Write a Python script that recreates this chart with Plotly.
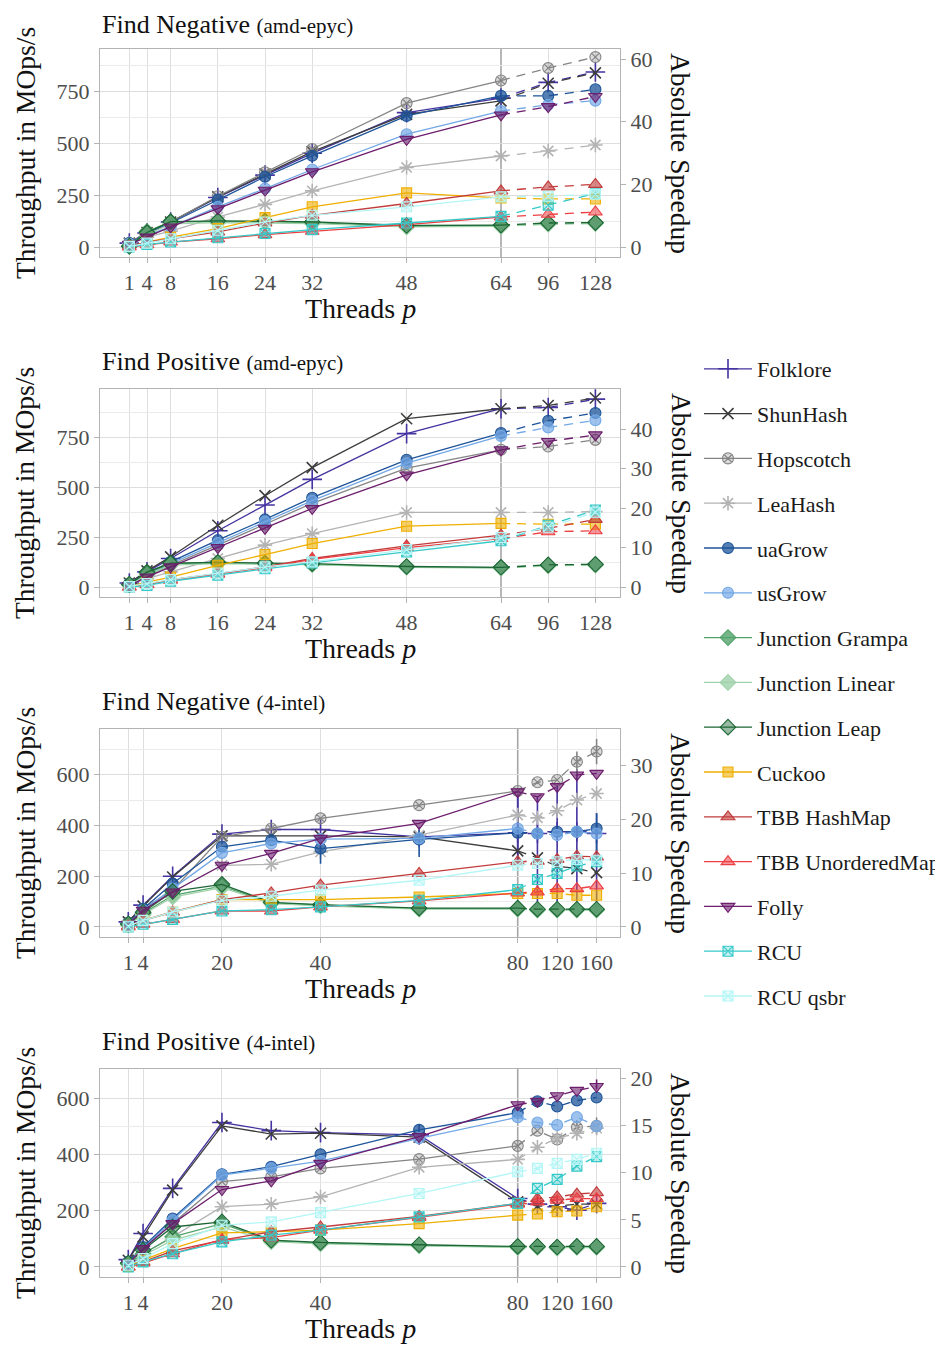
import plotly.graph_objects as go

# ---------------- data ----------------
threads_amd = [1, 4, 8, 16, 24, 32, 48, 64, 96, 128]
threads_intel = [1, 4, 10, 20, 30, 40, 60, 80, 100, 120, 140, 160]
ticks_amd = [1, 4, 8, 16, 24, 32, 48, 64, 96, 128]
ticks_intel = [1, 4, 20, 40, 80, 120, 160]

series_names = ["Folklore", "ShunHash", "Hopscotch", "LeaHash", "uaGrow", "usGrow",
                "Junction Grampa", "Junction Linear", "Junction Leap", "Cuckoo",
                "TBB HashMap", "TBB UnorderedMap", "Folly", "RCU", "RCU qsbr"]

# Find Negative (amd-epyc), throughput in MOps/s
neg_amd_folklore = [19, 68, 121, 239, 347, 452, 648, 718, 794, 844]
neg_amd_shunhash = [19, 70, 121, 242, 352, 460, 640, 705, 790, 840]
neg_amd_hopscotch = [19, 73, 121, 245, 360, 473, 694, 803, 863, 916]
neg_amd_leahash = [16, 48, 77, 145, 206, 271, 384, 439, 463, 492]
neg_amd_uagrow = [19, 65, 116, 229, 339, 440, 632, 729, 729, 761]
neg_amd_usgrow = [16, 56, 97, 194, 282, 374, 544, 656, 686, 706]
neg_amd_grampa = [4, 75, 121, 123, 121, 118, 100, 103, 113, 116]
neg_amd_linear = [3, 60, 112, 118, 116, 113, 97, 100, 110, 113]
neg_amd_leap = [4, 70, 123, 126, 125, 121, 104, 106, 116, 118]
neg_amd_cuckoo = [3, 24, 48, 89, 142, 194, 261, 237, 232, 232]
neg_amd_tbbhash = [3, 24, 40, 73, 116, 153, 210, 271, 290, 302]
neg_amd_tbbunord = [0, 11, 24, 40, 60, 76, 108, 145, 158, 169]
neg_amd_folly = [13, 48, 97, 185, 274, 363, 519, 637, 677, 726]
neg_amd_rcu = [0, 13, 24, 45, 65, 84, 116, 148, 202, 258]
neg_amd_rcuqsbr = [3, 19, 40, 81, 121, 153, 194, 242, 245, 255]

# Find Positive (amd-epyc)
pos_amd_folklore = [20, 76, 143, 282, 411, 540, 769, 894, 900, 942]
pos_amd_shunhash = [20, 81, 151, 310, 458, 599, 844, 894, 910, 948]
pos_amd_hopscotch = [13, 54, 109, 210, 315, 420, 596, 688, 705, 738]
pos_amd_leahash = [13, 42, 76, 143, 210, 268, 374, 374, 374, 378]
pos_amd_uagrow = [17, 67, 126, 235, 339, 448, 638, 772, 834, 873]
pos_amd_usgrow = [13, 59, 117, 221, 327, 433, 621, 758, 800, 836]
pos_amd_grampa = [13, 70, 117, 121, 117, 114, 101, 97, 109, 112]
pos_amd_linear = [10, 60, 110, 117, 115, 112, 99, 95, 106, 110]
pos_amd_leap = [14, 75, 120, 124, 120, 117, 103, 99, 111, 114]
pos_amd_cuckoo = [3, 25, 50, 109, 163, 218, 305, 319, 315, 315]
pos_amd_tbbhash = [0, 13, 37, 67, 101, 143, 206, 260, 294, 339]
pos_amd_tbbunord = [0, 12, 34, 64, 97, 139, 198, 243, 277, 282]
pos_amd_folly = [8, 50, 101, 198, 294, 394, 562, 688, 730, 763]
pos_amd_rcu = [0, 8, 29, 59, 92, 121, 176, 232, 310, 386]
pos_amd_rcuqsbr = [3, 17, 37, 70, 101, 126, 188, 248, 300, 375]

# Find Negative (4-intel)
neg_intel_folklore = [20, 86, 200, 366, 384, 384, 355, 371, 368, 375, 375, 368]
neg_intel_shunhash = [20, 82, 197, 359, 359, 359, 355, 300, 272, 240, 230, 214]
neg_intel_hopscotch = [16, 72, 145, 355, 388, 428, 480, 536, 570, 579, 651, 691]
neg_intel_leahash = [13, 66, 138, 243, 247, 296, 362, 441, 430, 458, 500, 526]
neg_intel_uagrow = [16, 72, 171, 316, 342, 309, 345, 371, 368, 375, 375, 388]
neg_intel_usgrow = [13, 66, 151, 292, 329, 346, 349, 388, 368, 362, 375, 368]
neg_intel_grampa = [11, 53, 125, 161, 95, 86, 72, 72, 68, 68, 68, 68]
neg_intel_linear = [9, 48, 118, 155, 92, 83, 70, 70, 66, 66, 66, 66]
neg_intel_leap = [12, 58, 140, 168, 97, 88, 74, 74, 70, 70, 70, 70]
neg_intel_cuckoo = [3, 26, 59, 108, 108, 108, 118, 132, 132, 132, 125, 125]
neg_intel_tbbhash = [3, 26, 59, 108, 134, 165, 211, 257, 259, 266, 279, 276]
neg_intel_tbbunord = [0, 11, 30, 63, 63, 79, 103, 134, 138, 151, 151, 162]
neg_intel_folly = [11, 66, 138, 243, 290, 349, 408, 533, 513, 553, 599, 605]
neg_intel_rcu = [0, 11, 30, 63, 68, 79, 105, 147, 187, 211, 240, 257]
neg_intel_rcuqsbr = [3, 26, 59, 105, 121, 145, 184, 243, 250, 257, 266, 263]
# error bars (up / down) for Find Negative (4-intel)
neg_intel_folklore_err_up = [0, 0, 0, 0, 0, 0, 0, 150, 145, 185, 245, 80]
neg_intel_folklore_err_dn = [0, 0, 0, 0, 0, 0, 0, 120, 290, 295, 295, 290]
neg_intel_uagrow_err_up = [0, 0, 0, 0, 0, 40, 37, 0, 0, 0, 0, 60]
neg_intel_uagrow_err_dn = [0, 0, 0, 0, 0, 60, 69, 0, 0, 0, 0, 100]
neg_intel_hopscotch_err_up = [0, 0, 0, 0, 0, 0, 0, 0, 0, 0, 40, 50]
neg_intel_hopscotch_err_dn = [0, 0, 0, 0, 0, 0, 0, 0, 0, 0, 60, 50]

# Find Positive (4-intel)
pos_intel_folklore = [26, 119, 279, 513, 484, 477, 469, 243, 223, 214, 202, 226]
pos_intel_shunhash = [24, 107, 273, 501, 472, 475, 461, 231, 216, 216, 223, 223]
pos_intel_hopscotch = [18, 65, 154, 303, 320, 350, 383, 430, 484, 453, 496, 501]
pos_intel_leahash = [12, 47, 107, 214, 223, 249, 354, 382, 425, 457, 475, 493]
pos_intel_uagrow = [18, 71, 172, 329, 356, 400, 487, 548, 588, 570, 591, 602]
pos_intel_usgrow = [14, 65, 166, 326, 350, 376, 457, 532, 513, 504, 532, 500]
pos_intel_grampa = [12, 47, 107, 154, 93, 85, 77, 71, 71, 69, 71, 71]
pos_intel_linear = [10, 40, 95, 142, 90, 82, 75, 69, 69, 67, 69, 69]
pos_intel_leap = [14, 60, 142, 160, 95, 87, 79, 73, 73, 71, 73, 73]
pos_intel_cuckoo = [2, 24, 65, 121, 125, 131, 154, 184, 188, 196, 199, 214]
pos_intel_tbbhash = [0, 18, 57, 95, 125, 142, 180, 226, 243, 249, 259, 264]
pos_intel_tbbunord = [0, 14, 47, 97, 104, 131, 176, 223, 231, 237, 243, 243]
pos_intel_folly = [12, 65, 154, 275, 306, 368, 463, 576, 588, 608, 627, 641]
pos_intel_rcu = [0, 18, 47, 89, 113, 131, 178, 226, 279, 311, 358, 392]
pos_intel_rcuqsbr = [6, 30, 83, 148, 160, 193, 261, 338, 350, 368, 382, 404]
pos_intel_folly_err_up = [0, 0, 0, 0, 0, 0, 0, 0, 0, 0, 0, 25]
pos_intel_folly_err_dn = [0, 0, 0, 0, 0, 0, 0, 0, 0, 0, 0, 10]
pos_intel_hopscotch_err_up = [0, 0, 0, 0, 0, 0, 0, 0, 0, 0, 25, 30]
pos_intel_hopscotch_err_dn = [0, 0, 0, 0, 0, 0, 0, 0, 0, 0, 30, 30]

# sequential baseline (MOps/s) used for absolute speedup
seq_neg_amd = 15.1
seq_pos_amd = 19.8
seq_neg_intel = 21.2
seq_pos_intel = 33.5

# ---------------- styles ----------------
styles = {
    "Folklore": ("#4433a0", "cross-thin", 14, 0.0),
    "ShunHash": ("#3d3d3d", "x-thin", 11, 0.0),
    "Hopscotch": ("#858585", "circle-x", 11, 0.3),
    "LeaHash": ("#b3b3b3", "asterisk", 12, 0.0),
    "uaGrow": ("#1d549a", "circle", 11, 0.75),
    "usGrow": ("#73a8e6", "circle", 11, 0.7),
    "Junction Grampa": ("#52a36a", "diamond", 12, 0.8),
    "Junction Linear": ("#9fd2aa", "diamond", 12, 0.8),
    "Junction Leap": ("#1b6634", "diamond", 12, 0.45),
    "Cuckoo": ("#efaf00", "square", 10, 0.6),
    "TBB HashMap": ("#c23b3b", "triangle-up", 12, 0.6),
    "TBB UnorderedMap": ("#ee3e42", "triangle-up", 12, 0.55),
    "Folly": ("#6c1d6c", "triangle-down", 12, 0.6),
    "RCU": ("#35c9c9", "square-x", 10, 0.3),
    "RCU qsbr": ("#b4f6f6", "square-x", 10, 0.3),
}


def rgba(h, a):
    h = h.lstrip("#")
    return "rgba(%d,%d,%d,%.2f)" % (int(h[0:2], 16), int(h[2:4], 16), int(h[4:6], 16), a)


def axis_pos(p, knee, comp):
    return p if p <= knee else knee + (p - knee) / comp


panels = [
    dict(title="Find Negative", machine="amd-epyc", threads=threads_amd, ticks=ticks_amd,
         knee=64, comp=4, seq=seq_neg_amd, yr=[-48, 955], lt=[0, 250, 500, 750],
         lm=[125, 375, 625, 875], rt=[0, 20, 40, 60], xr=[-3.97, 84.17],
         vals=[neg_amd_folklore, neg_amd_shunhash, neg_amd_hopscotch, neg_amd_leahash,
               neg_amd_uagrow, neg_amd_usgrow, neg_amd_grampa, neg_amd_linear, neg_amd_leap,
               neg_amd_cuckoo, neg_amd_tbbhash, neg_amd_tbbunord, neg_amd_folly,
               neg_amd_rcu, neg_amd_rcuqsbr], errs={}),
    dict(title="Find Positive", machine="amd-epyc", threads=threads_amd, ticks=ticks_amd,
         knee=64, comp=4, seq=seq_pos_amd, yr=[-50, 993], lt=[0, 250, 500, 750],
         lm=[125, 375, 625, 875], rt=[0, 10, 20, 30, 40], xr=[-3.97, 84.17],
         vals=[pos_amd_folklore, pos_amd_shunhash, pos_amd_hopscotch, pos_amd_leahash,
               pos_amd_uagrow, pos_amd_usgrow, pos_amd_grampa, pos_amd_linear, pos_amd_leap,
               pos_amd_cuckoo, pos_amd_tbbhash, pos_amd_tbbunord, pos_amd_folly,
               pos_amd_rcu, pos_amd_rcuqsbr], errs={}),
    dict(title="Find Negative", machine="4-intel", threads=threads_intel, ticks=ticks_intel,
         knee=80, comp=5, seq=seq_neg_intel, yr=[-39.5, 780], lt=[0, 200, 400, 600],
         lm=[100, 300, 500, 700], rt=[0, 10, 20, 30], xr=[-4.74, 100.75],
         vals=[neg_intel_folklore, neg_intel_shunhash, neg_intel_hopscotch, neg_intel_leahash,
               neg_intel_uagrow, neg_intel_usgrow, neg_intel_grampa, neg_intel_linear,
               neg_intel_leap, neg_intel_cuckoo, neg_intel_tbbhash, neg_intel_tbbunord,
               neg_intel_folly, neg_intel_rcu, neg_intel_rcuqsbr],
         errs={"Folklore": (neg_intel_folklore_err_up, neg_intel_folklore_err_dn),
               "uaGrow": (neg_intel_uagrow_err_up, neg_intel_uagrow_err_dn),
               "Hopscotch": (neg_intel_hopscotch_err_up, neg_intel_hopscotch_err_dn)}),
    dict(title="Find Positive", machine="4-intel", threads=threads_intel, ticks=ticks_intel,
         knee=80, comp=5, seq=seq_pos_intel, yr=[-35.6, 703], lt=[0, 200, 400, 600],
         lm=[100, 300, 500, 700], rt=[0, 5, 10, 15, 20], xr=[-4.74, 100.75],
         vals=[pos_intel_folklore, pos_intel_shunhash, pos_intel_hopscotch, pos_intel_leahash,
               pos_intel_uagrow, pos_intel_usgrow, pos_intel_grampa, pos_intel_linear,
               pos_intel_leap, pos_intel_cuckoo, pos_intel_tbbhash, pos_intel_tbbunord,
               pos_intel_folly, pos_intel_rcu, pos_intel_rcuqsbr],
         errs={"Folly": (pos_intel_folly_err_up, pos_intel_folly_err_dn),
               "Hopscotch": (pos_intel_hopscotch_err_up, pos_intel_hopscotch_err_dn)}),
]

# ---------------- layout geometry ----------------
# The page has an 8px body margin, so the figure is shrunk by that amount and
# every target position below is given in page pixels.
OFF = 8
W, H = 943 - OFF, 1347 - OFF
PLOT_L, PLOT_R = 100, 620          # page px
panel_px = [(49, 257), (389, 597), (729, 937), (1069, 1277)]   # page px (top, bottom)
title_px = [24, 361, 701, 1041]
ML = PLOT_L - OFF
MR = W - (PLOT_R - OFF)
MT = panel_px[0][0] - OFF
MB = H - (panel_px[-1][1] - OFF)
PW = W - ML - MR
PH = H - MT - MB


def py(p):
    return (H - MB - (p - OFF)) / PH


def px(p):
    return (p - OFF - ML) / PW


FONT = "Liberation Serif"
GRID = "#dedede"
MINOR = "#ebebeb"
BORDER = "#b3b3b3"
TICKC = "#4d4d4d"

fig = go.Figure()
layout = dict(width=W, height=H, margin=dict(l=ML, r=MR, t=MT, b=MB),
              paper_bgcolor="white", plot_bgcolor="white",
              font=dict(family=FONT, size=22, color="#1a1a1a"),
              showlegend=True, shapes=[], annotations=[])

for pi, pan in enumerate(panels):
    xa = "x" if pi == 0 else "x%d" % (pi + 1)
    ya = "y" if pi == 0 else "y%d" % (2 * pi + 1)
    yr = "y%d" % (2 * pi + 2)
    knee, comp = pan["knee"], pan["comp"]
    xs = [axis_pos(p, knee, comp) for p in pan["threads"]]
    k = pan["threads"].index(knee)
    for si, name in enumerate(series_names):
        col, sym, size, alpha = styles[name]
        vals = pan["vals"][si]
        thin = sym in ("cross-thin", "x-thin", "asterisk")
        mk = dict(symbol=sym, size=size,
                  color=col if thin else rgba(col, alpha),
                  line=dict(color=col, width=1.6 if thin else 1.1))
        err = pan["errs"].get(name)
        e1 = e2 = None
        if err:
            e1 = dict(type="data", symmetric=False, array=err[0][:k + 1], arrayminus=err[1][:k + 1],
                      color=col, thickness=1.6, width=0)
            e2 = dict(type="data", symmetric=False, array=err[0][k:], arrayminus=err[1][k:],
                      color=col, thickness=1.6, width=0)
        fig.add_trace(go.Scatter(
            x=xs[:k + 1], y=vals[:k + 1], mode="lines+markers", name=name,
            legendgroup=name, showlegend=(pi == 0), xaxis=xa, yaxis=ya,
            line=dict(color=col, width=1.3), marker=mk, error_y=e1))
        mk2 = dict(mk)
        mk2["opacity"] = [0] + [1] * (len(xs) - k - 1)
        fig.add_trace(go.Scatter(
            x=xs[k:], y=vals[k:], mode="lines+markers", name=name,
            legendgroup=name, showlegend=False, xaxis=xa, yaxis=ya,
            line=dict(color=col, width=1.3, dash="9px,7px"), marker=mk2, error_y=e2))
    # speedup axis carrier (transparent)
    fig.add_trace(go.Scatter(x=xs, y=[v / pan["seq"] for v in pan["vals"][0]],
                             mode="lines", opacity=0, showlegend=False, hoverinfo="skip",
                             xaxis=xa, yaxis=yr))

    top, bot = panel_px[pi]
    dom = [py(bot), py(top)]
    xkey = "xaxis" if pi == 0 else "xaxis%d" % (pi + 1)
    ykey = "yaxis" if pi == 0 else "yaxis%d" % (2 * pi + 1)
    rkey = "yaxis%d" % (2 * pi + 2)
    tickfont = dict(family=FONT, size=22, color=TICKC)
    tvals = [axis_pos(t, knee, comp) for t in pan["ticks"]]
    layout[xkey] = dict(domain=[0, 1], anchor=ya, range=pan["xr"],
                        tickmode="array", tickvals=tvals,
                        ticktext=[str(t) for t in pan["ticks"]],
                        showgrid=False, zeroline=False,
                        minor=dict(tickvals=[t for t in tvals if t != knee], showgrid=True,
                                   gridcolor=GRID, gridwidth=1.2, ticks=""),
                        ticks="outside", ticklen=5, tickcolor=BORDER, tickwidth=1.2,
                        showline=True, linecolor=BORDER, linewidth=1.3, mirror=True,
                        tickfont=tickfont)
    layout[ykey] = dict(domain=dom, anchor=xa, range=pan["yr"], tickmode="array",
                        tickvals=pan["lt"], ticktext=[str(t) for t in pan["lt"]],
                        showgrid=True, gridcolor=GRID, gridwidth=1.2, zeroline=False,
                        minor=dict(tickvals=pan["lm"], showgrid=True, gridcolor=MINOR,
                                   gridwidth=1, ticks=""),
                        ticks="outside", ticklen=5, tickcolor=BORDER, tickwidth=1.2,
                        showline=True, linecolor=BORDER, linewidth=1.3, mirror=True,
                        tickfont=tickfont)
    layout[rkey] = dict(overlaying=ya, side="right", anchor=xa,
                        range=[pan["yr"][0] / pan["seq"], pan["yr"][1] / pan["seq"]],
                        tickmode="array", tickvals=pan["rt"], ticktext=[str(t) for t in pan["rt"]],
                        showgrid=False, zeroline=False, showline=False,
                        ticks="outside", ticklen=5, tickcolor=BORDER, tickwidth=1.2,
                        tickfont=tickfont)
    layout["shapes"].append(dict(type="line", xref=xa, yref=ya + " domain",
                                 x0=axis_pos(knee, knee, comp), x1=axis_pos(knee, knee, comp),
                                 y0=0, y1=1, layer="below",
                                 line=dict(color="#a6a6a6", width=1.6)))
    mid = (py(bot) + py(top)) / 2
    layout["annotations"] += [
        dict(xref="paper", yref="paper", x=px(PLOT_L), y=py(title_px[pi]), xanchor="left",
             yanchor="middle", showarrow=False,
             text="%s <span style='font-size:21px'>(%s)</span>" % (pan["title"], pan["machine"]),
             font=dict(family=FONT, size=26, color="#111111")),
        dict(xref="paper", yref="paper", x=px(25), y=mid, xanchor="center", yanchor="middle",
             textangle=-90, showarrow=False, text="Throughput in MOps/s",
             font=dict(family=FONT, size=27.5, color="#111111")),
        dict(xref="paper", yref="paper", x=px(681), y=mid, xanchor="center", yanchor="middle",
             textangle=90, showarrow=False, text="Absolute Speedup",
             font=dict(family=FONT, size=27.5, color="#111111")),
        dict(xref="paper", yref="paper", x=px((PLOT_L + PLOT_R) / 2), y=py(bot + 51),
             xanchor="center", yanchor="middle", showarrow=False, text="Threads <i>p</i>",
             font=dict(family=FONT, size=28, color="#111111")),
    ]

# legend placed relative to the whole figure so it does not push the margins
LEG_X, LEG_Y = 699, 348   # page px
layout["legend"] = dict(xref="container", yref="container",
                        x=(LEG_X - OFF) / W, y=1 - (LEG_Y - OFF) / H,
                        xanchor="left", yanchor="top",
                        font=dict(family=FONT, size=22, color="#1a1a1a"),
                        tracegroupgap=13.2, bgcolor="rgba(0,0,0,0)", itemwidth=48)
fig.update_layout(**layout)
fig.write_html("out.html")
